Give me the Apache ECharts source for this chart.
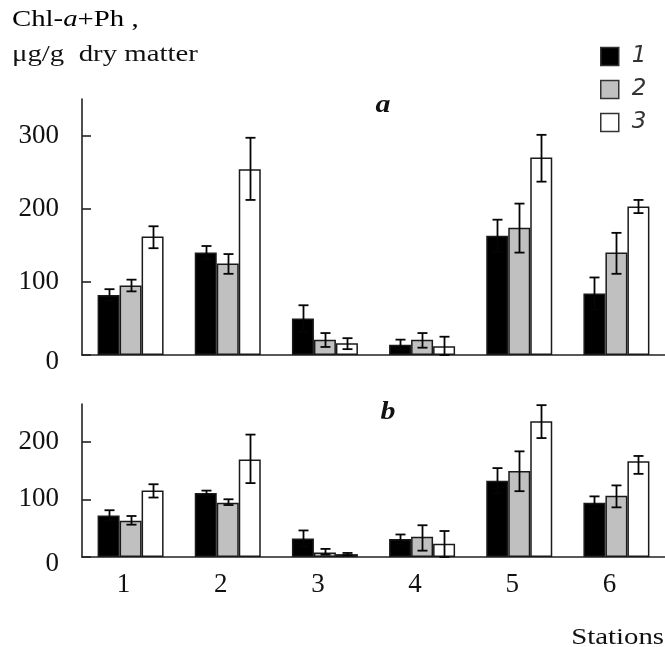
<!DOCTYPE html>
<html>
<head>
<meta charset="utf-8">
<script src="https://cdn.jsdelivr.net/npm/echarts@6/dist/echarts.min.js"></script>
<style>
  html, body { margin: 0; padding: 0; background: #fff; }
  #chart { width: 665px; height: 647px; }
</style>
</head>
<body>
<div id="chart"></div>
<script>
// Stations along the x axis
const stations = ['1', '2', '3', '4', '5', '6'];
const seriesNames = ['1', '2', '3'];
const yTicksA = [0, 100, 200, 300];
const yTicksB = [0, 100, 200];

// Panel a: Chl-a + Ph (µg/g dry matter), means and [minus, plus] errors
const a1 = [82, 140, 50, 14, 163, 84];
const a2 = [95, 125, 21, 21, 174, 140];
const a3 = [162, 254, 16, 12, 270, 203];
const aErr1 = [[8, 8], [9, 9], [18, 18], [7, 7], [22, 22], [22, 22]];
const aErr2 = [[8, 8], [14, 13], [10, 9], [11, 9], [34, 33], [29, 27]];
const aErr3 = [[16, 14], [42, 43], [8, 7], [12, 13], [33, 31], [9, 9]];

// Panel b
const b1 = [72, 111, 32, 31, 132, 94];
const b2 = [63, 94, 8, 35, 149, 106];
const b3 = [115, 169, 5, 23, 235, 166];
const bErr1 = [[9, 9], [4, 4], [14, 14], [8, 8], [22, 22], [11, 11]];
const bErr2 = [[7, 8], [4, 6], [4, 6], [24, 20], [35, 34], [20, 18]];
const bErr3 = [[12, 11], [41, 43], [2, 2], [23, 22], [29, 28], [22, 9]];

const SERIF = '"Liberation Serif", "Times New Roman", "DejaVu Serif", serif';
const BAR_W = 22;
const fills = ['#000000', '#c0c0c0', '#ffffff'];
const EDGE = '#1a1a1a';
const TXT = '#111111';

function barSeries(name, values, idx, axis) {
  return {
    name: name,
    type: 'bar',
    xAxisIndex: axis,
    yAxisIndex: axis,
    data: values,
    barWidth: BAR_W,
    barGap: '0%',
    itemStyle: { color: fills[idx], borderColor: EDGE, borderWidth: 1.5 },
    emphasis: { disabled: true },
    z: 2
  };
}

function errSeries(values, errs, idx, axis) {
  const data = values.map((v, i) => [i, Math.max(0, v - errs[i][0]), v + errs[i][1]]);
  return {
    type: 'custom',
    xAxisIndex: axis,
    yAxisIndex: axis,
    data: data,
    z: 3,
    silent: true,
    renderItem: function (params, api) {
      const shift = (idx - 1) * BAR_W;
      const lo = api.coord([api.value(0), api.value(1)]);
      const hi = api.coord([api.value(0), api.value(2)]);
      const x = Math.round(lo[0] + shift) + 0.5;
      const cap = 5;
      const st = { stroke: '#050505', lineWidth: 1.8 };
      return {
        type: 'group',
        children: [
          { type: 'line', shape: { x1: x, y1: lo[1], x2: x, y2: hi[1] }, style: st },
          { type: 'line', shape: { x1: x - cap, y1: hi[1], x2: x + cap, y2: hi[1] }, style: st },
          { type: 'line', shape: { x1: x - cap, y1: lo[1], x2: x + cap, y2: lo[1] }, style: st }
        ]
      };
    }
  };
}

function yAxis(idx, max, ticks) {
  return {
    type: 'value',
    gridIndex: idx,
    min: 0,
    max: max,
    interval: 100,
    splitLine: { show: false },
    axisLine: { show: true, lineStyle: { color: '#222', width: 1.6 } },
    axisTick: { show: true, inside: true, length: 9, customValues: ticks, lineStyle: { color: '#222', width: 1.6 } },
    axisLabel: {
      customValues: ticks,
      margin: 23,
      fontFamily: SERIF,
      fontSize: 27,
      color: TXT,
      formatter: v => (v === 0 ? '{z|0}' : String(v)),
      rich: { z: { fontFamily: SERIF, fontSize: 27, color: TXT, padding: [13, 0, 0, 0] } }
    }
  };
}

function xAxis(idx, labels) {
  return {
    type: 'category',
    gridIndex: idx,
    data: stations,
    axisLine: { show: true, lineStyle: { color: '#222', width: 1.6 } },
    axisTick: { show: false },
    axisLabel: labels ? {
      margin: 14,
      formatter: v => '{s|' + v + '}',
      rich: { s: { fontFamily: SERIF, fontSize: 27, color: TXT, padding: [0, 14, 0, 0] } }
    } : { show: false }
  };
}

const chart = echarts.init(document.getElementById('chart'), null, { renderer: 'canvas' });

chart.setOption({
  animation: false,
  backgroundColor: '#ffffff',
  grid: [
    { left: 82, top: 99, width: 586, height: 256 },
    { left: 82, top: 404, width: 586, height: 153 }
  ],
  xAxis: [xAxis(0, false), xAxis(1, true)],
  yAxis: [yAxis(0, 350, yTicksA), yAxis(1, 265, yTicksB)],
  legend: {
    data: seriesNames,
    orient: 'vertical',
    left: 595,
    top: 40,
    icon: 'rect',
    itemWidth: 18,
    itemHeight: 18,
    itemGap: 10,
    selectedMode: false,
    itemStyle: { borderColor: '#333', borderWidth: 1.5 },
    textStyle: {
      fontFamily: '"DejaVu Sans", "Liberation Sans", sans-serif',
      fontStyle: 'italic',
      fontWeight: 'lighter',
      fontSize: 23,
      lineHeight: 18,
      color: '#333',
      padding: [0, 0, 0, 8]
    }
  },
  graphic: [
    {
      type: 'text', left: 12, top: 8, scaleX: 1.2,
      style: {
        text: '{n|Chl-}{i|a}{n|+Ph ,}',
        rich: {
          n: { fontFamily: SERIF, fontSize: 24, color: TXT },
          i: { fontFamily: SERIF, fontSize: 24, fontStyle: 'italic', color: TXT }
        }
      }
    },
    {
      type: 'text', x: 12, y: 55, scaleX: 1.2,
      style: { text: 'μg/g  dry matter', fontFamily: SERIF, fontSize: 24, fill: TXT, verticalAlign: 'middle' }
    },
    {
      type: 'text', x: 383, y: 105, scaleX: 1.15,
      style: { text: 'a', fontFamily: SERIF, fontSize: 26, fontWeight: 'bold', fontStyle: 'italic', fill: TXT, align: 'center', verticalAlign: 'middle' }
    },
    {
      type: 'text', x: 388, y: 412, scaleX: 1.15,
      style: { text: 'b', fontFamily: SERIF, fontSize: 26, fontWeight: 'bold', fontStyle: 'italic', fill: TXT, align: 'center', verticalAlign: 'middle' }
    },
    {
      type: 'text', x: 664, y: 638, scaleX: 1.2,
      style: { text: 'Stations', fontFamily: SERIF, fontSize: 24, fill: TXT, align: 'right', verticalAlign: 'middle' }
    }
  ],
  series: [
    barSeries('1', a1, 0, 0),
    barSeries('2', a2, 1, 0),
    barSeries('3', a3, 2, 0),
    barSeries('1', b1, 0, 1),
    barSeries('2', b2, 1, 1),
    barSeries('3', b3, 2, 1),
    errSeries(a1, aErr1, 0, 0),
    errSeries(a2, aErr2, 1, 0),
    errSeries(a3, aErr3, 2, 0),
    errSeries(b1, bErr1, 0, 1),
    errSeries(b2, bErr2, 1, 1),
    errSeries(b3, bErr3, 2, 1)
  ]
});
</script>
</body>
</html>
